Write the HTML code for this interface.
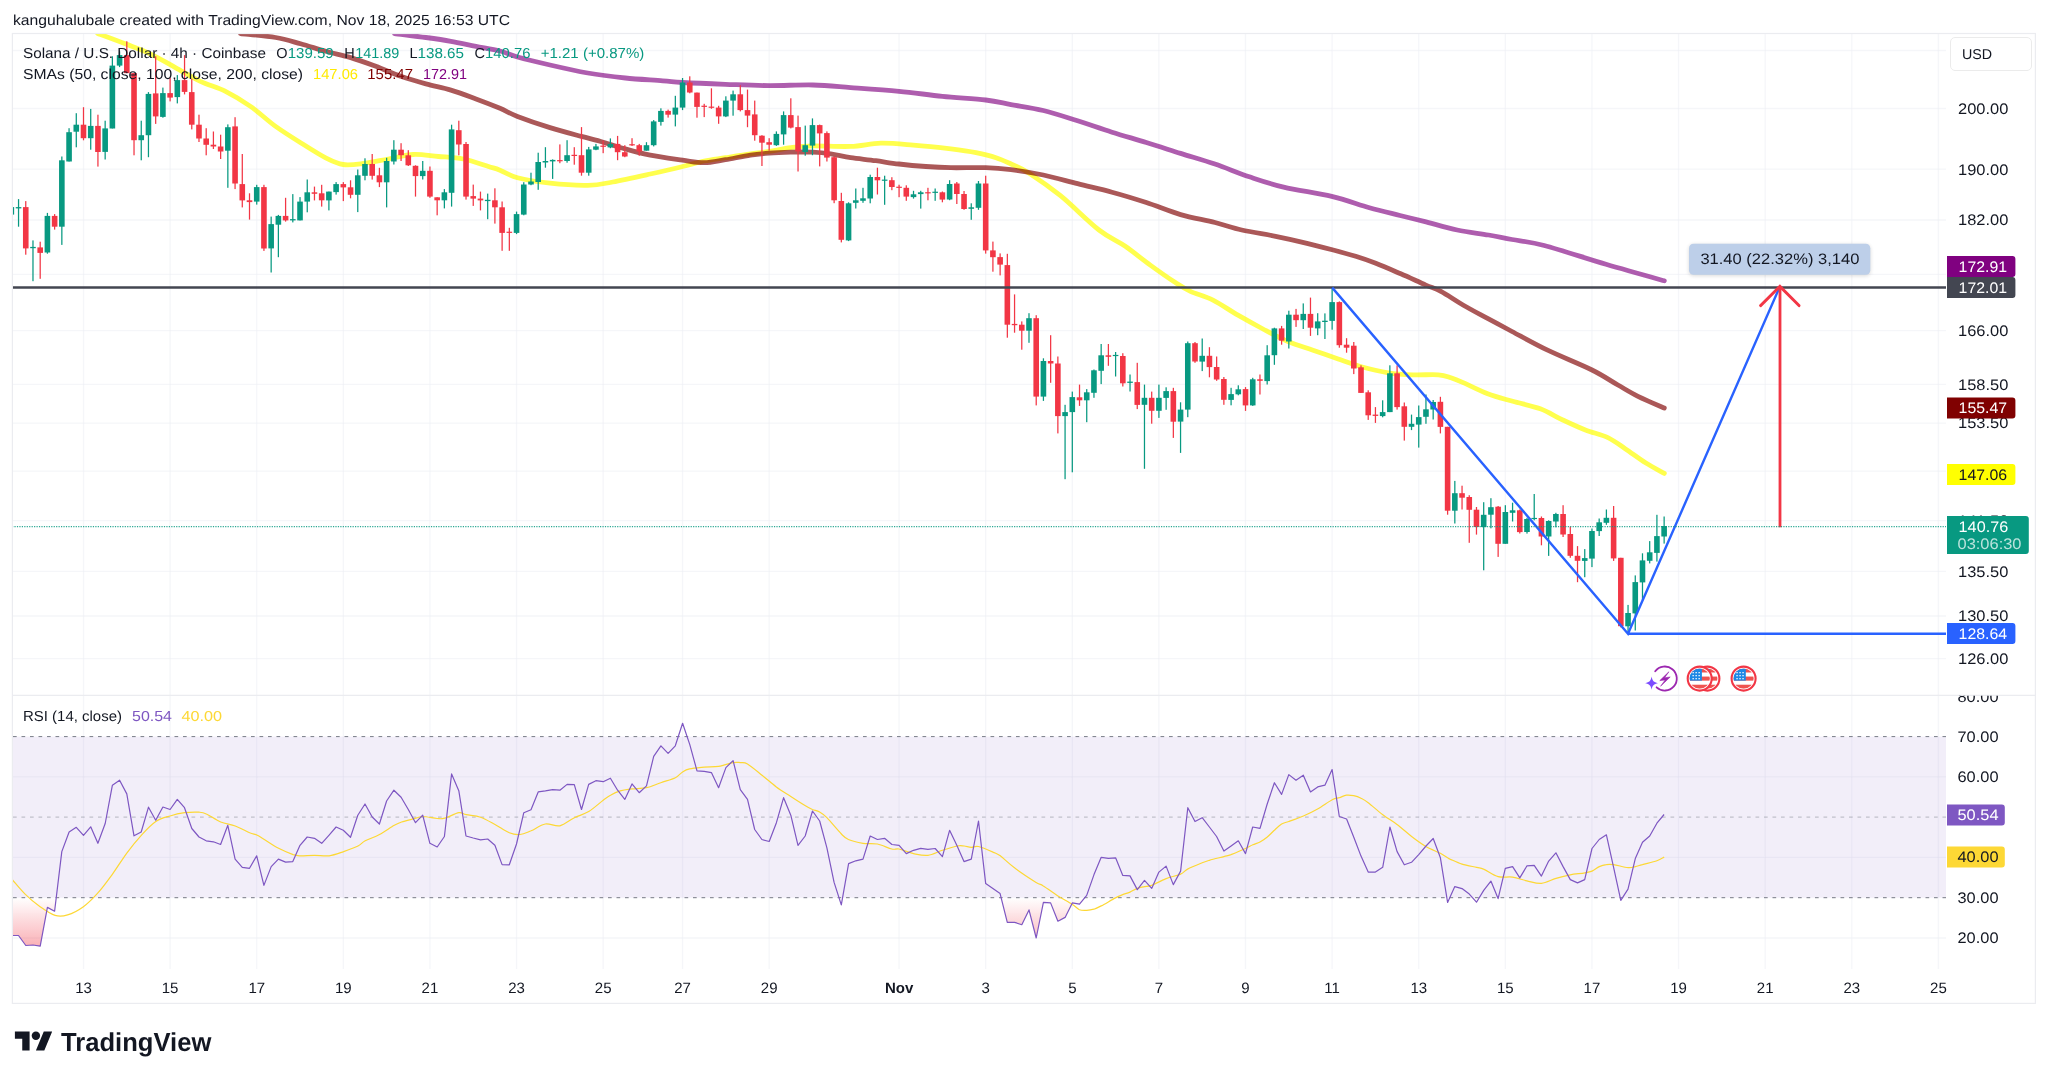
<!DOCTYPE html>
<html><head><meta charset="utf-8"><title>SOLUSD chart</title>
<style>html,body{margin:0;padding:0;background:#fff;}body{width:2048px;height:1078px;overflow:hidden;font-family:"Liberation Sans",sans-serif;}svg{display:block;text-rendering:geometricPrecision;will-change:opacity;opacity:0.9999}</style>
</head><body><svg width="2048" height="1078" viewBox="0 0 2048 1078" font-family="Liberation Sans, sans-serif"><g stroke="#eceef4" stroke-width="1.3" stroke-opacity="0.55">
<line x1="12.4" y1="50.5" x2="1946" y2="50.5"/>
<line x1="12.4" y1="108.5" x2="1946" y2="108.5"/>
<line x1="12.4" y1="169.2" x2="1946" y2="169.2"/>
<line x1="12.4" y1="220" x2="1946" y2="220"/>
<line x1="12.4" y1="274.3" x2="1946" y2="274.3"/>
<line x1="12.4" y1="330.6" x2="1946" y2="330.6"/>
<line x1="12.4" y1="384.3" x2="1946" y2="384.3"/>
<line x1="12.4" y1="423.1" x2="1946" y2="423.1"/>
<line x1="12.4" y1="471.2" x2="1946" y2="471.2"/>
<line x1="12.4" y1="520.6" x2="1946" y2="520.6"/>
<line x1="12.4" y1="571.4" x2="1946" y2="571.4"/>
<line x1="12.4" y1="616.0" x2="1946" y2="616.0"/>
<line x1="12.4" y1="658.6" x2="1946" y2="658.6"/>
<line x1="12.4" y1="776.875" x2="1946" y2="776.875"/>
<line x1="12.4" y1="857.425" x2="1946" y2="857.425"/>
<line x1="12.4" y1="937.9749999999999" x2="1946" y2="937.9749999999999"/>
<line x1="83.5" y1="33.5" x2="83.5" y2="969"/>
<line x1="170.11" y1="33.5" x2="170.11" y2="969"/>
<line x1="256.72" y1="33.5" x2="256.72" y2="969"/>
<line x1="343.33" y1="33.5" x2="343.33" y2="969"/>
<line x1="429.94" y1="33.5" x2="429.94" y2="969"/>
<line x1="516.55" y1="33.5" x2="516.55" y2="969"/>
<line x1="603.16" y1="33.5" x2="603.16" y2="969"/>
<line x1="682.5525" y1="33.5" x2="682.5525" y2="969"/>
<line x1="769.1625" y1="33.5" x2="769.1625" y2="969"/>
<line x1="899.0775" y1="33.5" x2="899.0775" y2="969"/>
<line x1="985.6875" y1="33.5" x2="985.6875" y2="969"/>
<line x1="1072.2975000000001" y1="33.5" x2="1072.2975000000001" y2="969"/>
<line x1="1158.9075" y1="33.5" x2="1158.9075" y2="969"/>
<line x1="1245.5175" y1="33.5" x2="1245.5175" y2="969"/>
<line x1="1332.1275" y1="33.5" x2="1332.1275" y2="969"/>
<line x1="1418.7375" y1="33.5" x2="1418.7375" y2="969"/>
<line x1="1505.3475" y1="33.5" x2="1505.3475" y2="969"/>
<line x1="1591.9575" y1="33.5" x2="1591.9575" y2="969"/>
<line x1="1678.5675" y1="33.5" x2="1678.5675" y2="969"/>
<line x1="1765.1775" y1="33.5" x2="1765.1775" y2="969"/>
<line x1="1851.7875000000001" y1="33.5" x2="1851.7875000000001" y2="969"/>
<line x1="1938.3975" y1="33.5" x2="1938.3975" y2="969"/>
</g>
<clipPath id="cm"><rect x="13" y="34" width="1933" height="661"/></clipPath>
<g clip-path="url(#cm)">
<path d="M97.7 33.5C102.3 35.2 116.5 40.4 125.3 43.8C134.1 47.2 142.0 49.8 150.3 53.8C158.7 57.8 167.1 63.0 175.4 67.6C183.8 72.2 192.1 77.4 200.4 81.4C208.8 85.4 217.2 87.2 225.5 91.4C233.8 95.6 242.2 100.6 250.5 106.4C258.9 112.2 267.2 120.4 275.6 126.4C284.0 132.4 292.2 137.5 300.6 142.7C309.0 147.9 318.6 154.2 325.7 157.8C332.8 161.4 336.9 163.6 343.2 164.5C349.4 165.4 355.7 164.4 363.2 163.5C370.7 162.6 379.9 160.5 388.3 159.0C396.7 157.5 405.0 154.9 413.3 154.5C421.6 154.1 430.0 155.8 438.4 156.5C446.8 157.2 455.0 157.3 463.4 159.0C471.8 160.7 482.4 164.6 488.5 166.5C494.6 168.4 495.2 168.3 500.0 170.2C504.8 172.1 509.2 175.5 517.5 177.7C525.8 179.9 538.3 181.9 550.0 183.2C561.7 184.5 577.2 185.5 587.7 185.3C598.2 185.1 602.3 183.9 612.7 182.0C623.1 180.1 638.6 176.6 650.3 174.0C661.9 171.4 673.6 168.7 682.6 166.5C691.6 164.3 697.1 162.5 704.2 161.0C711.4 159.5 717.8 158.9 725.5 157.7C733.2 156.5 743.2 154.9 750.5 153.9C757.8 152.9 762.3 152.4 769.0 151.4C775.7 150.4 783.5 148.6 790.8 147.7C798.1 146.8 803.0 146.1 813.0 145.9C823.0 145.7 839.4 146.9 850.7 146.4C862.0 145.9 870.4 143.4 880.8 143.2C891.2 143.0 901.6 144.2 913.3 145.2C925.0 146.1 940.4 147.7 950.9 148.9C961.4 150.2 968.5 151.2 976.0 152.7C983.5 154.2 990.2 155.8 996.0 157.7C1001.8 159.6 1005.4 161.4 1011.0 164.0C1016.6 166.6 1021.3 168.1 1029.6 173.4C1037.8 178.7 1048.9 186.3 1060.5 195.7C1072.1 205.1 1088.2 221.6 1099.0 230.0C1109.8 238.4 1116.8 240.5 1125.3 246.3C1133.8 252.2 1141.9 259.1 1150.3 265.1C1158.7 271.2 1168.7 278.2 1175.4 282.6C1182.1 287.0 1184.1 288.5 1190.4 291.4C1196.7 294.3 1205.1 296.1 1213.0 300.1C1220.9 304.1 1229.7 310.4 1238.0 315.2C1246.3 320.0 1254.7 324.6 1263.0 329.0C1271.3 333.4 1279.7 338.0 1288.0 341.5C1296.3 345.0 1304.6 347.3 1313.0 350.2C1321.4 353.1 1329.8 356.1 1338.2 359.0C1346.6 361.9 1354.9 365.0 1363.2 367.3C1371.5 369.6 1380.0 371.6 1388.3 372.8C1396.6 374.1 1404.9 374.5 1413.3 374.8C1421.7 375.1 1432.1 374.3 1438.4 374.8C1444.7 375.3 1446.9 376.5 1450.9 377.8C1454.9 379.1 1456.5 379.7 1462.6 382.4C1468.7 385.1 1479.3 390.6 1487.7 393.8C1496.1 397.0 1503.9 398.8 1512.7 401.3C1521.5 403.8 1532.0 405.7 1540.3 408.8C1548.6 411.9 1555.3 416.5 1562.8 420.0C1570.3 423.5 1577.9 427.1 1585.4 430.0C1592.9 432.9 1601.2 434.5 1607.9 437.6C1614.6 440.8 1619.2 444.7 1625.5 448.9C1631.8 453.1 1639.0 458.6 1645.5 462.7C1652.0 466.8 1661.2 471.6 1664.3 473.4" fill="none" stroke="#ffff00" stroke-opacity="0.7" stroke-width="4.8" stroke-linecap="round" stroke-linejoin="round"/>
<path d="M240.5 33.5C246.3 34.2 265.6 35.8 275.6 37.5C285.6 39.2 292.2 41.5 300.6 43.8C309.0 46.1 317.4 49.0 325.7 51.3C334.0 53.6 342.3 55.1 350.7 57.6C359.1 60.1 367.4 63.2 375.8 66.3C384.2 69.4 392.5 73.4 400.8 76.3C409.1 79.2 417.5 81.6 425.9 83.9C434.2 86.2 442.5 87.6 450.9 90.1C459.2 92.6 467.8 95.9 476.0 98.9C484.2 101.9 493.1 105.4 500.0 108.3C506.9 111.2 509.2 113.2 517.5 116.4C525.8 119.6 539.4 124.3 550.0 127.6C560.6 130.9 572.5 134.0 581.4 136.4C590.3 138.8 595.9 140.1 603.2 142.2C610.5 144.3 617.4 146.7 625.3 148.9C633.1 151.1 640.8 153.3 650.3 155.2C659.8 157.1 673.6 158.9 682.6 160.2C691.6 161.4 697.1 162.8 704.2 162.7C711.4 162.6 717.8 160.9 725.5 159.7C733.2 158.4 743.2 156.3 750.5 155.2C757.8 154.1 762.3 153.7 769.0 153.2C775.7 152.7 783.5 152.4 790.8 152.2C798.1 152.0 806.4 151.9 813.0 152.2C819.6 152.5 824.4 153.0 830.7 153.9C837.0 154.8 843.2 156.6 850.7 157.7C858.2 158.8 867.8 159.6 875.8 160.7C883.8 161.8 890.6 163.0 899.0 164.0C907.4 165.0 917.2 165.9 925.9 166.5C934.5 167.1 940.9 167.5 950.9 167.7C960.9 167.9 975.7 167.4 985.7 167.7C995.7 168.0 1001.4 168.5 1011.0 169.7C1020.6 170.9 1032.2 172.7 1043.3 175.0C1054.4 177.3 1066.1 180.8 1077.6 183.7C1089.0 186.6 1100.5 189.1 1112.0 192.2C1123.5 195.3 1134.9 198.8 1146.3 202.5C1157.7 206.2 1169.1 211.3 1180.6 214.6C1192.0 217.9 1204.8 219.9 1215.0 222.5C1225.2 225.1 1231.6 227.7 1241.7 230.0C1251.8 232.3 1265.8 234.3 1275.6 236.3C1285.4 238.3 1291.0 239.5 1300.6 241.8C1310.2 244.1 1324.0 247.6 1333.2 250.0C1342.4 252.4 1348.6 254.1 1355.7 256.3C1362.8 258.5 1368.3 260.4 1375.8 263.3C1383.3 266.2 1392.4 270.2 1400.8 273.8C1409.2 277.4 1419.2 282.2 1425.9 285.1C1432.6 288.0 1434.7 288.0 1440.9 291.4C1447.2 294.8 1455.5 300.6 1463.4 305.2C1471.3 309.8 1480.4 314.5 1488.5 318.9C1496.6 323.3 1502.2 326.3 1512.0 331.5C1521.8 336.7 1534.3 343.8 1547.6 350.2C1560.9 356.6 1580.3 364.2 1592.0 370.0C1603.7 375.8 1610.2 380.6 1617.9 385.0C1625.6 389.4 1630.3 392.5 1638.0 396.3C1645.7 400.1 1659.9 406.1 1664.3 408.0" fill="none" stroke="#800000" stroke-opacity="0.66" stroke-width="4.8" stroke-linecap="round" stroke-linejoin="round"/>
<path d="M394.5 33.5C399.7 34.2 416.5 36.2 425.9 37.5C435.3 38.8 442.5 39.8 450.9 41.3C459.2 42.8 467.8 44.7 476.0 46.3C484.2 47.9 493.1 49.2 500.0 51.0C506.9 52.8 509.2 54.7 517.5 57.0C525.8 59.3 538.3 62.3 550.0 65.0C561.7 67.7 575.2 70.8 587.7 73.0C600.2 75.2 612.8 76.7 625.3 78.0C637.8 79.3 653.2 80.0 662.8 80.8C672.3 81.5 672.1 81.9 682.6 82.5C693.1 83.1 711.1 83.8 725.5 84.3C739.9 84.8 754.4 85.5 769.0 85.6C783.6 85.7 799.4 84.7 813.0 85.0C826.6 85.3 836.4 86.5 850.7 87.6C865.0 88.6 883.7 89.8 899.0 91.3C914.3 92.8 927.9 94.8 942.4 96.3C956.9 97.8 974.3 98.6 985.7 100.0C997.1 101.4 1001.4 102.8 1011.0 104.6C1020.6 106.3 1032.2 107.8 1043.3 110.5C1054.4 113.2 1066.1 117.2 1077.6 120.8C1089.0 124.4 1100.5 128.6 1112.0 132.2C1123.5 135.8 1134.9 139.0 1146.3 142.5C1157.7 146.0 1169.2 149.8 1180.6 153.4C1192.0 157.0 1203.5 160.2 1214.9 164.1C1226.4 168.0 1237.8 173.0 1249.3 176.8C1260.8 180.6 1269.9 183.8 1283.6 187.1C1297.3 190.4 1317.4 193.0 1331.7 196.4C1346.0 199.8 1358.0 204.5 1369.4 207.7C1380.8 210.9 1390.9 213.2 1400.0 215.5C1409.1 217.8 1414.5 219.0 1424.0 221.4C1433.5 223.8 1446.5 227.7 1457.2 230.0C1468.0 232.3 1479.4 233.4 1488.5 235.0C1497.6 236.6 1502.7 237.8 1512.0 239.5C1521.3 241.2 1528.5 241.4 1544.2 245.5C1559.9 249.6 1586.0 258.4 1606.0 264.3C1626.0 270.2 1654.6 278.1 1664.3 280.8" fill="none" stroke="#800080" stroke-opacity="0.64" stroke-width="4.8" stroke-linecap="round" stroke-linejoin="round"/>
<g><rect x="10.70" y="207.1" width="1.25" height="7.5" fill="#089981"/><rect x="17.92" y="199.1" width="1.25" height="27.6" fill="#089981"/><rect x="25.13" y="201.1" width="1.25" height="53.6" fill="#f23645"/><rect x="32.35" y="240.4" width="1.25" height="40.8" fill="#089981"/><rect x="39.57" y="241.7" width="1.25" height="37.1" fill="#f23645"/><rect x="46.79" y="212.9" width="1.25" height="40.8" fill="#089981"/><rect x="54.00" y="214.1" width="1.25" height="15.5" fill="#f23645"/><rect x="61.22" y="156.5" width="1.25" height="88.4" fill="#089981"/><rect x="68.44" y="128.2" width="1.25" height="33.3" fill="#089981"/><rect x="75.66" y="113.2" width="1.25" height="34.1" fill="#089981"/><rect x="82.88" y="107.2" width="1.25" height="33.1" fill="#f23645"/><rect x="90.09" y="108.9" width="1.25" height="40.8" fill="#089981"/><rect x="97.31" y="114.7" width="1.25" height="51.9" fill="#f23645"/><rect x="104.53" y="120.7" width="1.25" height="38.8" fill="#089981"/><rect x="111.75" y="56.3" width="1.25" height="72.1" fill="#089981"/><rect x="118.96" y="51.3" width="1.25" height="15.8" fill="#089981"/><rect x="126.18" y="41.3" width="1.25" height="31.8" fill="#f23645"/><rect x="133.40" y="73.1" width="1.25" height="82.2" fill="#f23645"/><rect x="140.62" y="120.7" width="1.25" height="39.6" fill="#089981"/><rect x="147.83" y="92.1" width="1.25" height="65.1" fill="#089981"/><rect x="155.05" y="56.3" width="1.25" height="67.6" fill="#f23645"/><rect x="162.27" y="87.6" width="1.25" height="30.1" fill="#089981"/><rect x="169.49" y="77.6" width="1.25" height="23.8" fill="#f23645"/><rect x="176.70" y="75.1" width="1.25" height="28.3" fill="#089981"/><rect x="183.92" y="55.1" width="1.25" height="39.3" fill="#f23645"/><rect x="191.14" y="78.8" width="1.25" height="50.6" fill="#f23645"/><rect x="198.36" y="114.7" width="1.25" height="27.3" fill="#f23645"/><rect x="205.57" y="128.2" width="1.25" height="27.1" fill="#f23645"/><rect x="212.79" y="131.5" width="1.25" height="17.5" fill="#f23645"/><rect x="220.01" y="134.7" width="1.25" height="24.3" fill="#f23645"/><rect x="227.22" y="124.4" width="1.25" height="63.4" fill="#089981"/><rect x="234.44" y="117.2" width="1.25" height="71.9" fill="#f23645"/><rect x="241.66" y="154.0" width="1.25" height="53.4" fill="#f23645"/><rect x="248.88" y="193.3" width="1.25" height="26.3" fill="#f23645"/><rect x="256.10" y="184.8" width="1.25" height="19.8" fill="#089981"/><rect x="263.31" y="184.8" width="1.25" height="66.1" fill="#f23645"/><rect x="270.53" y="216.6" width="1.25" height="55.9" fill="#089981"/><rect x="277.75" y="214.9" width="1.25" height="42.3" fill="#089981"/><rect x="284.97" y="197.8" width="1.25" height="23.8" fill="#f23645"/><rect x="292.18" y="194.1" width="1.25" height="28.3" fill="#089981"/><rect x="299.40" y="197.1" width="1.25" height="23.3" fill="#089981"/><rect x="306.62" y="179.5" width="1.25" height="32.8" fill="#089981"/><rect x="313.84" y="186.6" width="1.25" height="13.8" fill="#f23645"/><rect x="321.05" y="184.8" width="1.25" height="21.8" fill="#f23645"/><rect x="328.27" y="191.6" width="1.25" height="18.8" fill="#089981"/><rect x="335.49" y="182.1" width="1.25" height="12.5" fill="#089981"/><rect x="342.70" y="182.1" width="1.25" height="19.0" fill="#f23645"/><rect x="349.92" y="180.3" width="1.25" height="18.0" fill="#f23645"/><rect x="357.14" y="169.5" width="1.25" height="42.6" fill="#089981"/><rect x="364.36" y="158.3" width="1.25" height="22.0" fill="#089981"/><rect x="371.57" y="154.0" width="1.25" height="25.6" fill="#f23645"/><rect x="378.79" y="167.8" width="1.25" height="19.3" fill="#f23645"/><rect x="386.01" y="157.8" width="1.25" height="49.6" fill="#089981"/><rect x="393.23" y="140.2" width="1.25" height="24.3" fill="#089981"/><rect x="400.44" y="143.2" width="1.25" height="17.8" fill="#f23645"/><rect x="407.66" y="150.2" width="1.25" height="15.8" fill="#f23645"/><rect x="414.88" y="165.3" width="1.25" height="31.3" fill="#f23645"/><rect x="422.10" y="161.0" width="1.25" height="18.5" fill="#089981"/><rect x="429.31" y="166.5" width="1.25" height="31.3" fill="#f23645"/><rect x="436.53" y="197.3" width="1.25" height="18.0" fill="#f23645"/><rect x="443.75" y="189.1" width="1.25" height="19.3" fill="#089981"/><rect x="450.97" y="124.7" width="1.25" height="81.9" fill="#089981"/><rect x="458.19" y="120.7" width="1.25" height="34.6" fill="#f23645"/><rect x="465.40" y="142.0" width="1.25" height="57.6" fill="#f23645"/><rect x="472.62" y="184.6" width="1.25" height="21.3" fill="#f23645"/><rect x="479.84" y="191.6" width="1.25" height="18.8" fill="#f23645"/><rect x="487.06" y="193.6" width="1.25" height="25.6" fill="#089981"/><rect x="494.27" y="188.3" width="1.25" height="35.3" fill="#f23645"/><rect x="501.49" y="201.5" width="1.25" height="49.3" fill="#f23645"/><rect x="508.71" y="227.8" width="1.25" height="23.0" fill="#f23645"/><rect x="515.92" y="211.6" width="1.25" height="22.5" fill="#089981"/><rect x="523.14" y="182.2" width="1.25" height="33.1" fill="#089981"/><rect x="530.36" y="172.7" width="1.25" height="12.5" fill="#089981"/><rect x="537.58" y="152.7" width="1.25" height="37.1" fill="#089981"/><rect x="544.80" y="147.2" width="1.25" height="20.5" fill="#089981"/><rect x="552.01" y="159.4" width="1.25" height="19.5" fill="#089981"/><rect x="559.23" y="144.4" width="1.25" height="18.8" fill="#f23645"/><rect x="566.45" y="140.2" width="1.25" height="22.5" fill="#089981"/><rect x="573.66" y="147.2" width="1.25" height="17.5" fill="#f23645"/><rect x="580.88" y="127.1" width="1.25" height="48.6" fill="#f23645"/><rect x="588.10" y="146.9" width="1.25" height="28.8" fill="#089981"/><rect x="595.32" y="143.9" width="1.25" height="6.3" fill="#089981"/><rect x="602.53" y="140.7" width="1.25" height="12.5" fill="#f23645"/><rect x="609.75" y="138.4" width="1.25" height="9.8" fill="#089981"/><rect x="616.97" y="135.9" width="1.25" height="24.3" fill="#f23645"/><rect x="624.19" y="145.2" width="1.25" height="12.0" fill="#f23645"/><rect x="631.40" y="138.2" width="1.25" height="7.8" fill="#f23645"/><rect x="638.62" y="143.9" width="1.25" height="11.8" fill="#f23645"/><rect x="645.84" y="142.2" width="1.25" height="8.5" fill="#089981"/><rect x="653.06" y="120.1" width="1.25" height="26.3" fill="#089981"/><rect x="660.27" y="108.3" width="1.25" height="17.3" fill="#089981"/><rect x="667.49" y="109.6" width="1.25" height="8.0" fill="#f23645"/><rect x="674.71" y="95.8" width="1.25" height="30.6" fill="#089981"/><rect x="681.93" y="78.0" width="1.25" height="32.1" fill="#089981"/><rect x="689.14" y="76.3" width="1.25" height="17.0" fill="#f23645"/><rect x="696.36" y="92.6" width="1.25" height="25.1" fill="#f23645"/><rect x="703.58" y="103.8" width="1.25" height="13.3" fill="#f23645"/><rect x="710.80" y="88.3" width="1.25" height="20.5" fill="#f23645"/><rect x="718.01" y="105.8" width="1.25" height="18.0" fill="#f23645"/><rect x="725.23" y="96.3" width="1.25" height="20.8" fill="#089981"/><rect x="732.45" y="90.6" width="1.25" height="25.1" fill="#089981"/><rect x="739.67" y="85.1" width="1.25" height="26.3" fill="#f23645"/><rect x="746.88" y="89.6" width="1.25" height="37.6" fill="#f23645"/><rect x="754.10" y="100.6" width="1.25" height="40.1" fill="#f23645"/><rect x="761.32" y="135.2" width="1.25" height="30.8" fill="#f23645"/><rect x="768.54" y="138.2" width="1.25" height="12.5" fill="#f23645"/><rect x="775.75" y="131.4" width="1.25" height="14.5" fill="#089981"/><rect x="782.97" y="111.4" width="1.25" height="33.3" fill="#089981"/><rect x="790.19" y="98.3" width="1.25" height="30.1" fill="#f23645"/><rect x="797.41" y="115.6" width="1.25" height="55.9" fill="#f23645"/><rect x="804.62" y="125.6" width="1.25" height="30.1" fill="#089981"/><rect x="811.84" y="118.4" width="1.25" height="36.8" fill="#089981"/><rect x="819.06" y="124.6" width="1.25" height="41.8" fill="#f23645"/><rect x="826.28" y="131.4" width="1.25" height="30.1" fill="#f23645"/><rect x="833.50" y="156.4" width="1.25" height="46.8" fill="#f23645"/><rect x="840.71" y="192.8" width="1.25" height="49.6" fill="#f23645"/><rect x="847.93" y="202.3" width="1.25" height="38.8" fill="#089981"/><rect x="855.15" y="188.5" width="1.25" height="20.0" fill="#089981"/><rect x="862.37" y="187.8" width="1.25" height="15.0" fill="#089981"/><rect x="869.58" y="174.7" width="1.25" height="28.6" fill="#089981"/><rect x="876.80" y="167.7" width="1.25" height="26.8" fill="#f23645"/><rect x="884.02" y="175.7" width="1.25" height="29.1" fill="#089981"/><rect x="891.24" y="177.2" width="1.25" height="13.0" fill="#f23645"/><rect x="898.45" y="184.7" width="1.25" height="12.5" fill="#f23645"/><rect x="905.67" y="185.3" width="1.25" height="15.5" fill="#f23645"/><rect x="912.89" y="190.8" width="1.25" height="7.8" fill="#089981"/><rect x="920.11" y="190.8" width="1.25" height="17.8" fill="#089981"/><rect x="927.32" y="187.8" width="1.25" height="12.5" fill="#f23645"/><rect x="934.54" y="188.5" width="1.25" height="12.3" fill="#089981"/><rect x="941.76" y="191.5" width="1.25" height="10.8" fill="#f23645"/><rect x="948.98" y="180.2" width="1.25" height="20.0" fill="#089981"/><rect x="956.19" y="182.0" width="1.25" height="22.0" fill="#f23645"/><rect x="963.41" y="191.0" width="1.25" height="18.8" fill="#f23645"/><rect x="970.63" y="203.3" width="1.25" height="16.5" fill="#089981"/><rect x="977.85" y="181.0" width="1.25" height="28.8" fill="#089981"/><rect x="985.06" y="175.7" width="1.25" height="77.9" fill="#f23645"/><rect x="992.28" y="241.6" width="1.25" height="30.1" fill="#f23645"/><rect x="999.50" y="253.4" width="1.25" height="22.0" fill="#f23645"/><rect x="1006.72" y="253.8" width="1.25" height="83.9" fill="#f23645"/><rect x="1013.93" y="294.4" width="1.25" height="38.3" fill="#f23645"/><rect x="1021.15" y="321.4" width="1.25" height="28.3" fill="#f23645"/><rect x="1028.37" y="313.2" width="1.25" height="29.6" fill="#089981"/><rect x="1035.59" y="315.2" width="1.25" height="90.2" fill="#f23645"/><rect x="1042.80" y="358.3" width="1.25" height="42.6" fill="#089981"/><rect x="1050.02" y="335.2" width="1.25" height="47.6" fill="#f23645"/><rect x="1057.24" y="356.5" width="1.25" height="76.9" fill="#f23645"/><rect x="1064.45" y="404.8" width="1.25" height="74.4" fill="#089981"/><rect x="1071.67" y="391.6" width="1.25" height="80.7" fill="#089981"/><rect x="1078.89" y="384.6" width="1.25" height="21.3" fill="#f23645"/><rect x="1086.11" y="389.1" width="1.25" height="33.1" fill="#089981"/><rect x="1093.33" y="369.5" width="1.25" height="28.3" fill="#089981"/><rect x="1100.54" y="344.0" width="1.25" height="40.1" fill="#089981"/><rect x="1107.76" y="344.0" width="1.25" height="21.8" fill="#f23645"/><rect x="1114.98" y="352.0" width="1.25" height="24.5" fill="#089981"/><rect x="1122.19" y="353.2" width="1.25" height="33.3" fill="#f23645"/><rect x="1129.41" y="374.5" width="1.25" height="17.0" fill="#089981"/><rect x="1136.63" y="362.8" width="1.25" height="46.3" fill="#f23645"/><rect x="1143.85" y="384.6" width="1.25" height="84.2" fill="#089981"/><rect x="1151.07" y="391.6" width="1.25" height="32.1" fill="#f23645"/><rect x="1158.28" y="384.6" width="1.25" height="33.3" fill="#089981"/><rect x="1165.50" y="387.3" width="1.25" height="22.5" fill="#089981"/><rect x="1172.72" y="387.8" width="1.25" height="50.1" fill="#f23645"/><rect x="1179.93" y="402.3" width="1.25" height="50.6" fill="#089981"/><rect x="1187.15" y="341.5" width="1.25" height="75.7" fill="#089981"/><rect x="1194.37" y="342.0" width="1.25" height="20.8" fill="#f23645"/><rect x="1201.59" y="338.5" width="1.25" height="32.6" fill="#089981"/><rect x="1208.81" y="347.2" width="1.25" height="30.1" fill="#f23645"/><rect x="1216.02" y="356.5" width="1.25" height="24.3" fill="#f23645"/><rect x="1223.24" y="377.0" width="1.25" height="27.8" fill="#f23645"/><rect x="1230.46" y="387.8" width="1.25" height="17.5" fill="#089981"/><rect x="1237.67" y="385.3" width="1.25" height="10.0" fill="#089981"/><rect x="1244.89" y="387.1" width="1.25" height="23.8" fill="#f23645"/><rect x="1252.11" y="377.8" width="1.25" height="28.1" fill="#089981"/><rect x="1259.33" y="374.5" width="1.25" height="20.0" fill="#f23645"/><rect x="1266.55" y="345.2" width="1.25" height="39.3" fill="#089981"/><rect x="1273.76" y="327.7" width="1.25" height="37.1" fill="#089981"/><rect x="1280.98" y="325.9" width="1.25" height="18.8" fill="#f23645"/><rect x="1288.20" y="310.7" width="1.25" height="37.8" fill="#089981"/><rect x="1295.41" y="308.9" width="1.25" height="18.0" fill="#f23645"/><rect x="1302.63" y="303.4" width="1.25" height="25.6" fill="#089981"/><rect x="1309.85" y="297.6" width="1.25" height="38.3" fill="#f23645"/><rect x="1317.07" y="313.2" width="1.25" height="22.0" fill="#089981"/><rect x="1324.29" y="313.4" width="1.25" height="25.6" fill="#089981"/><rect x="1331.50" y="287.6" width="1.25" height="42.1" fill="#089981"/><rect x="1338.72" y="301.4" width="1.25" height="46.3" fill="#f23645"/><rect x="1345.94" y="338.2" width="1.25" height="14.5" fill="#f23645"/><rect x="1353.15" y="342.0" width="1.25" height="32.1" fill="#f23645"/><rect x="1360.37" y="365.3" width="1.25" height="27.6" fill="#f23645"/><rect x="1367.59" y="390.3" width="1.25" height="29.6" fill="#f23645"/><rect x="1374.81" y="407.1" width="1.25" height="15.8" fill="#f23645"/><rect x="1382.03" y="400.3" width="1.25" height="17.0" fill="#089981"/><rect x="1389.24" y="365.3" width="1.25" height="46.8" fill="#089981"/><rect x="1396.46" y="365.3" width="1.25" height="44.3" fill="#f23645"/><rect x="1403.68" y="402.5" width="1.25" height="38.1" fill="#f23645"/><rect x="1410.89" y="414.6" width="1.25" height="15.5" fill="#089981"/><rect x="1418.11" y="405.5" width="1.25" height="42.1" fill="#089981"/><rect x="1425.33" y="394.5" width="1.25" height="29.3" fill="#089981"/><rect x="1432.55" y="400.0" width="1.25" height="19.5" fill="#089981"/><rect x="1439.77" y="396.8" width="1.25" height="36.6" fill="#f23645"/><rect x="1446.98" y="426.8" width="1.25" height="87.9" fill="#f23645"/><rect x="1454.20" y="480.9" width="1.25" height="42.6" fill="#089981"/><rect x="1461.42" y="485.7" width="1.25" height="23.8" fill="#f23645"/><rect x="1468.63" y="495.2" width="1.25" height="47.6" fill="#f23645"/><rect x="1475.85" y="507.0" width="1.25" height="27.6" fill="#f23645"/><rect x="1483.07" y="502.2" width="1.25" height="68.1" fill="#089981"/><rect x="1490.29" y="498.2" width="1.25" height="30.1" fill="#089981"/><rect x="1497.51" y="506.0" width="1.25" height="50.9" fill="#f23645"/><rect x="1504.72" y="505.2" width="1.25" height="38.6" fill="#089981"/><rect x="1511.94" y="502.7" width="1.25" height="18.8" fill="#089981"/><rect x="1519.16" y="509.5" width="1.25" height="24.0" fill="#f23645"/><rect x="1526.38" y="517.8" width="1.25" height="15.8" fill="#089981"/><rect x="1533.59" y="494.0" width="1.25" height="26.3" fill="#089981"/><rect x="1540.81" y="516.5" width="1.25" height="28.8" fill="#f23645"/><rect x="1548.03" y="520.3" width="1.25" height="35.6" fill="#089981"/><rect x="1555.25" y="512.8" width="1.25" height="14.5" fill="#089981"/><rect x="1562.46" y="505.2" width="1.25" height="31.8" fill="#f23645"/><rect x="1569.68" y="526.5" width="1.25" height="31.3" fill="#f23645"/><rect x="1576.90" y="546.1" width="1.25" height="36.1" fill="#f23645"/><rect x="1584.12" y="549.1" width="1.25" height="28.1" fill="#089981"/><rect x="1591.33" y="528.5" width="1.25" height="38.6" fill="#089981"/><rect x="1598.55" y="518.5" width="1.25" height="17.5" fill="#089981"/><rect x="1605.77" y="509.5" width="1.25" height="15.3" fill="#089981"/><rect x="1612.99" y="506.0" width="1.25" height="54.9" fill="#f23645"/><rect x="1620.20" y="557.8" width="1.25" height="69.6" fill="#f23645"/><rect x="1627.42" y="604.9" width="1.25" height="28.1" fill="#089981"/><rect x="1634.64" y="575.4" width="1.25" height="55.1" fill="#089981"/><rect x="1641.86" y="553.3" width="1.25" height="47.1" fill="#089981"/><rect x="1649.07" y="541.1" width="1.25" height="22.3" fill="#089981"/><rect x="1656.29" y="514.8" width="1.25" height="46.8" fill="#089981"/><rect x="1663.51" y="516.5" width="1.25" height="27.1" fill="#089981"/><rect x="8.53" y="207.1" width="5.6" height="7.5" fill="#089981"/><rect x="15.74" y="207.1" width="5.6" height="1.3" fill="#089981"/><rect x="22.96" y="207.1" width="5.6" height="41.3" fill="#f23645"/><rect x="30.18" y="246.9" width="5.6" height="1.3" fill="#089981"/><rect x="37.40" y="247.4" width="5.6" height="5.5" fill="#f23645"/><rect x="44.61" y="215.9" width="5.6" height="36.6" fill="#089981"/><rect x="51.83" y="215.9" width="5.6" height="10.8" fill="#f23645"/><rect x="59.05" y="160.3" width="5.6" height="66.4" fill="#089981"/><rect x="66.27" y="132.2" width="5.6" height="29.3" fill="#089981"/><rect x="73.48" y="124.7" width="5.6" height="7.0" fill="#089981"/><rect x="80.70" y="124.7" width="5.6" height="13.5" fill="#f23645"/><rect x="87.92" y="125.9" width="5.6" height="12.3" fill="#089981"/><rect x="95.14" y="125.9" width="5.6" height="26.1" fill="#f23645"/><rect x="102.35" y="128.4" width="5.6" height="23.5" fill="#089981"/><rect x="109.57" y="65.6" width="5.6" height="62.9" fill="#089981"/><rect x="116.79" y="55.1" width="5.6" height="10.5" fill="#089981"/><rect x="124.01" y="55.1" width="5.6" height="18.0" fill="#f23645"/><rect x="131.22" y="73.1" width="5.6" height="67.1" fill="#f23645"/><rect x="138.44" y="135.2" width="5.6" height="5.0" fill="#089981"/><rect x="145.66" y="93.9" width="5.6" height="41.3" fill="#089981"/><rect x="152.88" y="93.4" width="5.6" height="23.0" fill="#f23645"/><rect x="160.09" y="93.1" width="5.6" height="23.8" fill="#089981"/><rect x="167.31" y="93.1" width="5.6" height="4.5" fill="#f23645"/><rect x="174.53" y="80.1" width="5.6" height="17.0" fill="#089981"/><rect x="181.75" y="80.1" width="5.6" height="11.8" fill="#f23645"/><rect x="188.96" y="92.1" width="5.6" height="32.6" fill="#f23645"/><rect x="196.18" y="124.7" width="5.6" height="13.8" fill="#f23645"/><rect x="203.40" y="138.5" width="5.6" height="6.3" fill="#f23645"/><rect x="210.61" y="144.7" width="5.6" height="1.8" fill="#f23645"/><rect x="217.83" y="146.5" width="5.6" height="5.0" fill="#f23645"/><rect x="225.05" y="127.2" width="5.6" height="23.5" fill="#089981"/><rect x="232.27" y="126.4" width="5.6" height="57.1" fill="#f23645"/><rect x="239.48" y="184.1" width="5.6" height="16.3" fill="#f23645"/><rect x="246.70" y="200.3" width="5.6" height="1.8" fill="#f23645"/><rect x="253.92" y="187.1" width="5.6" height="14.5" fill="#089981"/><rect x="261.14" y="187.1" width="5.6" height="61.4" fill="#f23645"/><rect x="268.35" y="224.1" width="5.6" height="24.3" fill="#089981"/><rect x="275.57" y="215.9" width="5.6" height="8.8" fill="#089981"/><rect x="282.79" y="215.9" width="5.6" height="4.5" fill="#f23645"/><rect x="290.01" y="219.1" width="5.6" height="1.3" fill="#089981"/><rect x="297.22" y="201.6" width="5.6" height="18.8" fill="#089981"/><rect x="304.44" y="192.3" width="5.6" height="9.3" fill="#089981"/><rect x="311.66" y="192.3" width="5.6" height="1.5" fill="#f23645"/><rect x="318.88" y="193.3" width="5.6" height="7.0" fill="#f23645"/><rect x="326.09" y="191.6" width="5.6" height="8.8" fill="#089981"/><rect x="333.31" y="184.1" width="5.6" height="8.0" fill="#089981"/><rect x="340.53" y="184.1" width="5.6" height="3.3" fill="#f23645"/><rect x="347.75" y="187.3" width="5.6" height="7.5" fill="#f23645"/><rect x="354.96" y="175.3" width="5.6" height="19.5" fill="#089981"/><rect x="362.18" y="164.0" width="5.6" height="11.8" fill="#089981"/><rect x="369.40" y="164.0" width="5.6" height="11.8" fill="#f23645"/><rect x="376.62" y="175.3" width="5.6" height="7.0" fill="#f23645"/><rect x="383.83" y="161.0" width="5.6" height="21.3" fill="#089981"/><rect x="391.05" y="149.7" width="5.6" height="11.8" fill="#089981"/><rect x="398.27" y="149.7" width="5.6" height="5.5" fill="#f23645"/><rect x="405.49" y="155.3" width="5.6" height="10.0" fill="#f23645"/><rect x="412.70" y="165.8" width="5.6" height="10.3" fill="#f23645"/><rect x="419.92" y="170.8" width="5.6" height="5.3" fill="#089981"/><rect x="427.14" y="170.8" width="5.6" height="25.8" fill="#f23645"/><rect x="434.36" y="197.3" width="5.6" height="3.0" fill="#f23645"/><rect x="441.57" y="192.3" width="5.6" height="8.0" fill="#089981"/><rect x="448.79" y="129.4" width="5.6" height="63.4" fill="#089981"/><rect x="456.01" y="130.2" width="5.6" height="14.3" fill="#f23645"/><rect x="463.23" y="144.0" width="5.6" height="52.6" fill="#f23645"/><rect x="470.44" y="196.1" width="5.6" height="2.5" fill="#f23645"/><rect x="477.66" y="198.6" width="5.6" height="1.8" fill="#f23645"/><rect x="484.88" y="199.8" width="5.6" height="1.3" fill="#089981"/><rect x="492.10" y="200.3" width="5.6" height="7.0" fill="#f23645"/><rect x="499.31" y="207.3" width="5.6" height="25.6" fill="#f23645"/><rect x="506.53" y="231.7" width="5.6" height="1.2" fill="#f23645"/><rect x="513.75" y="214.1" width="5.6" height="18.8" fill="#089981"/><rect x="520.97" y="184.5" width="5.6" height="30.1" fill="#089981"/><rect x="528.19" y="181.5" width="5.6" height="3.0" fill="#089981"/><rect x="535.40" y="162.0" width="5.6" height="20.0" fill="#089981"/><rect x="542.62" y="161.0" width="5.6" height="1.5" fill="#089981"/><rect x="549.84" y="159.9" width="5.6" height="1.5" fill="#089981"/><rect x="557.06" y="160.1" width="5.6" height="1.2" fill="#f23645"/><rect x="564.27" y="155.2" width="5.6" height="5.8" fill="#089981"/><rect x="571.49" y="154.8" width="5.6" height="1.2" fill="#f23645"/><rect x="578.71" y="155.2" width="5.6" height="17.5" fill="#f23645"/><rect x="585.93" y="149.4" width="5.6" height="23.3" fill="#089981"/><rect x="593.14" y="146.4" width="5.6" height="3.3" fill="#089981"/><rect x="600.36" y="145.6" width="5.6" height="1.2" fill="#f23645"/><rect x="607.58" y="143.9" width="5.6" height="3.5" fill="#089981"/><rect x="614.80" y="143.9" width="5.6" height="8.3" fill="#f23645"/><rect x="622.01" y="152.2" width="5.6" height="4.3" fill="#f23645"/><rect x="629.23" y="144.2" width="5.6" height="1.2" fill="#f23645"/><rect x="636.45" y="145.2" width="5.6" height="6.3" fill="#f23645"/><rect x="643.67" y="145.2" width="5.6" height="5.5" fill="#089981"/><rect x="650.88" y="121.4" width="5.6" height="23.8" fill="#089981"/><rect x="658.10" y="110.9" width="5.6" height="11.0" fill="#089981"/><rect x="665.32" y="110.9" width="5.6" height="3.8" fill="#f23645"/><rect x="672.54" y="107.6" width="5.6" height="7.0" fill="#089981"/><rect x="679.75" y="82.5" width="5.6" height="25.1" fill="#089981"/><rect x="686.97" y="82.5" width="5.6" height="10.0" fill="#f23645"/><rect x="694.19" y="92.6" width="5.6" height="14.3" fill="#f23645"/><rect x="701.41" y="105.7" width="5.6" height="1.2" fill="#f23645"/><rect x="708.62" y="106.6" width="5.6" height="1.2" fill="#f23645"/><rect x="715.84" y="107.6" width="5.6" height="8.8" fill="#f23645"/><rect x="723.06" y="100.6" width="5.6" height="15.8" fill="#089981"/><rect x="730.28" y="94.3" width="5.6" height="6.3" fill="#089981"/><rect x="737.49" y="94.3" width="5.6" height="15.8" fill="#f23645"/><rect x="744.71" y="110.1" width="5.6" height="5.5" fill="#f23645"/><rect x="751.93" y="114.4" width="5.6" height="20.8" fill="#f23645"/><rect x="759.15" y="135.7" width="5.6" height="7.0" fill="#f23645"/><rect x="766.36" y="142.2" width="5.6" height="2.5" fill="#f23645"/><rect x="773.58" y="133.9" width="5.6" height="11.3" fill="#089981"/><rect x="780.80" y="115.1" width="5.6" height="19.3" fill="#089981"/><rect x="788.02" y="115.1" width="5.6" height="12.5" fill="#f23645"/><rect x="795.23" y="127.1" width="5.6" height="24.3" fill="#f23645"/><rect x="802.45" y="145.2" width="5.6" height="6.8" fill="#089981"/><rect x="809.67" y="125.1" width="5.6" height="20.5" fill="#089981"/><rect x="816.89" y="125.1" width="5.6" height="8.3" fill="#f23645"/><rect x="824.10" y="133.1" width="5.6" height="24.5" fill="#f23645"/><rect x="831.32" y="157.2" width="5.6" height="43.1" fill="#f23645"/><rect x="838.54" y="201.0" width="5.6" height="38.8" fill="#f23645"/><rect x="845.76" y="203.3" width="5.6" height="37.1" fill="#089981"/><rect x="852.97" y="200.3" width="5.6" height="2.5" fill="#089981"/><rect x="860.19" y="198.3" width="5.6" height="2.5" fill="#089981"/><rect x="867.41" y="177.0" width="5.6" height="21.5" fill="#089981"/><rect x="874.63" y="177.0" width="5.6" height="3.3" fill="#f23645"/><rect x="881.84" y="179.6" width="5.6" height="1.2" fill="#089981"/><rect x="889.06" y="180.2" width="5.6" height="6.8" fill="#f23645"/><rect x="896.28" y="186.7" width="5.6" height="1.2" fill="#f23645"/><rect x="903.50" y="187.8" width="5.6" height="8.8" fill="#f23645"/><rect x="910.71" y="194.3" width="5.6" height="2.8" fill="#089981"/><rect x="917.93" y="192.3" width="5.6" height="1.8" fill="#089981"/><rect x="925.15" y="192.2" width="5.6" height="1.2" fill="#f23645"/><rect x="932.37" y="191.7" width="5.6" height="1.2" fill="#089981"/><rect x="939.58" y="192.3" width="5.6" height="7.3" fill="#f23645"/><rect x="946.80" y="184.0" width="5.6" height="15.5" fill="#089981"/><rect x="954.02" y="183.5" width="5.6" height="10.5" fill="#f23645"/><rect x="961.24" y="194.0" width="5.6" height="15.0" fill="#f23645"/><rect x="968.45" y="207.3" width="5.6" height="1.5" fill="#089981"/><rect x="975.67" y="183.5" width="5.6" height="24.3" fill="#089981"/><rect x="982.89" y="183.5" width="5.6" height="66.9" fill="#f23645"/><rect x="990.11" y="250.4" width="5.6" height="6.8" fill="#f23645"/><rect x="997.32" y="257.1" width="5.6" height="7.5" fill="#f23645"/><rect x="1004.54" y="265.1" width="5.6" height="59.6" fill="#f23645"/><rect x="1011.76" y="323.9" width="5.6" height="1.3" fill="#f23645"/><rect x="1018.98" y="324.7" width="5.6" height="6.0" fill="#f23645"/><rect x="1026.19" y="318.2" width="5.6" height="12.5" fill="#089981"/><rect x="1033.41" y="318.2" width="5.6" height="78.4" fill="#f23645"/><rect x="1040.63" y="361.0" width="5.6" height="35.6" fill="#089981"/><rect x="1047.85" y="361.0" width="5.6" height="2.5" fill="#f23645"/><rect x="1055.06" y="363.5" width="5.6" height="52.6" fill="#f23645"/><rect x="1062.28" y="412.1" width="5.6" height="4.0" fill="#089981"/><rect x="1069.50" y="397.1" width="5.6" height="15.0" fill="#089981"/><rect x="1076.71" y="397.3" width="5.6" height="3.0" fill="#f23645"/><rect x="1083.93" y="392.3" width="5.6" height="8.0" fill="#089981"/><rect x="1091.15" y="370.3" width="5.6" height="22.5" fill="#089981"/><rect x="1098.37" y="355.3" width="5.6" height="15.5" fill="#089981"/><rect x="1105.59" y="355.3" width="5.6" height="1.5" fill="#f23645"/><rect x="1112.80" y="354.9" width="5.6" height="1.2" fill="#089981"/><rect x="1120.02" y="356.0" width="5.6" height="27.3" fill="#f23645"/><rect x="1127.24" y="381.6" width="5.6" height="1.3" fill="#089981"/><rect x="1134.46" y="382.1" width="5.6" height="22.8" fill="#f23645"/><rect x="1141.67" y="397.8" width="5.6" height="7.0" fill="#089981"/><rect x="1148.89" y="397.8" width="5.6" height="13.0" fill="#f23645"/><rect x="1156.11" y="397.8" width="5.6" height="13.0" fill="#089981"/><rect x="1163.33" y="391.1" width="5.6" height="6.8" fill="#089981"/><rect x="1170.54" y="391.1" width="5.6" height="30.6" fill="#f23645"/><rect x="1177.76" y="409.6" width="5.6" height="12.0" fill="#089981"/><rect x="1184.98" y="343.2" width="5.6" height="66.4" fill="#089981"/><rect x="1192.20" y="343.2" width="5.6" height="18.3" fill="#f23645"/><rect x="1199.41" y="355.8" width="5.6" height="5.8" fill="#089981"/><rect x="1206.63" y="355.8" width="5.6" height="11.3" fill="#f23645"/><rect x="1213.85" y="367.0" width="5.6" height="12.5" fill="#f23645"/><rect x="1221.07" y="379.0" width="5.6" height="20.8" fill="#f23645"/><rect x="1228.28" y="394.1" width="5.6" height="5.8" fill="#089981"/><rect x="1235.50" y="389.3" width="5.6" height="5.0" fill="#089981"/><rect x="1242.72" y="389.1" width="5.6" height="16.3" fill="#f23645"/><rect x="1249.94" y="379.3" width="5.6" height="26.1" fill="#089981"/><rect x="1257.15" y="379.3" width="5.6" height="1.5" fill="#f23645"/><rect x="1264.37" y="355.3" width="5.6" height="25.8" fill="#089981"/><rect x="1271.59" y="328.4" width="5.6" height="26.8" fill="#089981"/><rect x="1278.81" y="328.4" width="5.6" height="12.3" fill="#f23645"/><rect x="1286.02" y="314.7" width="5.6" height="26.8" fill="#089981"/><rect x="1293.24" y="314.7" width="5.6" height="5.5" fill="#f23645"/><rect x="1300.46" y="313.9" width="5.6" height="6.3" fill="#089981"/><rect x="1307.68" y="313.9" width="5.6" height="13.8" fill="#f23645"/><rect x="1314.89" y="321.4" width="5.6" height="7.0" fill="#089981"/><rect x="1322.11" y="320.7" width="5.6" height="1.3" fill="#089981"/><rect x="1329.33" y="302.1" width="5.6" height="18.8" fill="#089981"/><rect x="1336.55" y="302.1" width="5.6" height="43.1" fill="#f23645"/><rect x="1343.76" y="344.7" width="5.6" height="3.0" fill="#f23645"/><rect x="1350.98" y="345.7" width="5.6" height="22.8" fill="#f23645"/><rect x="1358.20" y="367.3" width="5.6" height="25.6" fill="#f23645"/><rect x="1365.42" y="392.3" width="5.6" height="23.0" fill="#f23645"/><rect x="1372.63" y="414.6" width="5.6" height="1.3" fill="#f23645"/><rect x="1379.85" y="412.1" width="5.6" height="4.0" fill="#089981"/><rect x="1387.07" y="373.3" width="5.6" height="38.8" fill="#089981"/><rect x="1394.29" y="373.3" width="5.6" height="33.8" fill="#f23645"/><rect x="1401.50" y="406.3" width="5.6" height="20.5" fill="#f23645"/><rect x="1408.72" y="423.8" width="5.6" height="3.0" fill="#089981"/><rect x="1415.94" y="417.1" width="5.6" height="7.5" fill="#089981"/><rect x="1423.16" y="409.3" width="5.6" height="7.5" fill="#089981"/><rect x="1430.37" y="402.0" width="5.6" height="7.5" fill="#089981"/><rect x="1437.59" y="401.8" width="5.6" height="25.1" fill="#f23645"/><rect x="1444.81" y="426.8" width="5.6" height="83.9" fill="#f23645"/><rect x="1452.03" y="493.2" width="5.6" height="17.5" fill="#089981"/><rect x="1459.24" y="493.2" width="5.6" height="4.5" fill="#f23645"/><rect x="1466.46" y="497.0" width="5.6" height="12.8" fill="#f23645"/><rect x="1473.68" y="509.7" width="5.6" height="17.3" fill="#f23645"/><rect x="1480.89" y="514.8" width="5.6" height="12.3" fill="#089981"/><rect x="1488.11" y="507.2" width="5.6" height="7.5" fill="#089981"/><rect x="1495.33" y="506.7" width="5.6" height="37.1" fill="#f23645"/><rect x="1502.55" y="512.0" width="5.6" height="31.8" fill="#089981"/><rect x="1509.77" y="510.3" width="5.6" height="2.5" fill="#089981"/><rect x="1516.98" y="510.3" width="5.6" height="21.8" fill="#f23645"/><rect x="1524.20" y="519.0" width="5.6" height="13.0" fill="#089981"/><rect x="1531.42" y="517.9" width="5.6" height="1.2" fill="#089981"/><rect x="1538.63" y="518.0" width="5.6" height="18.5" fill="#f23645"/><rect x="1545.85" y="521.0" width="5.6" height="15.5" fill="#089981"/><rect x="1553.07" y="514.0" width="5.6" height="7.5" fill="#089981"/><rect x="1560.29" y="514.0" width="5.6" height="20.5" fill="#f23645"/><rect x="1567.51" y="534.0" width="5.6" height="21.8" fill="#f23645"/><rect x="1574.72" y="555.8" width="5.6" height="5.0" fill="#f23645"/><rect x="1581.94" y="558.1" width="5.6" height="2.8" fill="#089981"/><rect x="1589.16" y="531.0" width="5.6" height="27.6" fill="#089981"/><rect x="1596.38" y="522.3" width="5.6" height="8.8" fill="#089981"/><rect x="1603.59" y="517.8" width="5.6" height="5.0" fill="#089981"/><rect x="1610.81" y="517.8" width="5.6" height="40.6" fill="#f23645"/><rect x="1618.03" y="557.8" width="5.6" height="68.4" fill="#f23645"/><rect x="1625.25" y="613.0" width="5.6" height="13.3" fill="#089981"/><rect x="1632.46" y="582.1" width="5.6" height="31.3" fill="#089981"/><rect x="1639.68" y="560.4" width="5.6" height="22.0" fill="#089981"/><rect x="1646.90" y="552.3" width="5.6" height="8.5" fill="#089981"/><rect x="1654.12" y="536.1" width="5.6" height="16.8" fill="#089981"/><rect x="1661.33" y="526.0" width="5.6" height="10.5" fill="#089981"/></g>
<line x1="12" y1="287.5" x2="1946" y2="287.5" stroke="#434651" stroke-width="2.4"/>
<path d="M1332.2 287.6L1628 633.8L1779.5 287.5" fill="none" stroke="#2962ff" stroke-width="2.4" stroke-linejoin="miter"/>
<line x1="1628" y1="633.8" x2="1946" y2="633.8" stroke="#2962ff" stroke-width="2.4"/>
<path d="M1780 527.3V287.5" fill="none" stroke="#f23645" stroke-width="2.8"/><path d="M1760.6 305.6L1779.9 286.4L1799 305.6" fill="none" stroke="#f23645" stroke-width="2.9" stroke-linecap="round" stroke-linejoin="miter"/>
<rect x="1689" y="243.7" width="181.3" height="31" rx="4.5" fill="#bdcfe9" style="filter:drop-shadow(0 1px 2px rgba(0,0,0,0.16))"/>
<text x="1700.4" y="264.4" font-size="15.2" fill="#131722" textLength="159" lengthAdjust="spacingAndGlyphs">31.40 (22.32%) 3,140</text>
<line x1="12" y1="526.6" x2="1946" y2="526.6" stroke="#089981" stroke-opacity="0.85" stroke-width="1.2" stroke-dasharray="1.2 1.25"/>

<g>
 <!-- lightning -->
 <path d="M1655.2 671.3A12 12 0 1 1 1656.6 687.3" fill="none" stroke="#9c27b0" stroke-width="1.8" stroke-linecap="round"/>
 <path d="M1668.9 671.8L1659.8 680.6L1665.2 680L1660.6 686.2L1670.2 677L1664.6 677.7Z" fill="#9c27b0" stroke="#9c27b0" stroke-width="0.6" stroke-linejoin="round"/>
 <path d="M1651.6 676.6C1652.4 681 1653.8 682.4 1658 683.2C1653.8 684 1652.4 685.4 1651.6 689.8C1650.8 685.4 1649.4 684 1645.2 683.2C1649.4 682.4 1650.8 681 1651.6 676.6Z" fill="#7c4dff"/>
</g>
<g><clipPath id="f1"><circle cx="1707.4" cy="678.6" r="10.2"/></clipPath><circle cx="1707.4" cy="678.6" r="12" fill="#fff" stroke="#f23645" stroke-width="2.1"/><g clip-path="url(#f1)"><rect x="1697.2" y="668.4" width="20.4" height="20.4" fill="#fff"/><rect x="1697.2" y="668.40" width="20.4" height="4.08" fill="#ef5350"/><rect x="1697.2" y="676.56" width="20.4" height="4.08" fill="#ef5350"/><rect x="1697.2" y="684.72" width="20.4" height="4.08" fill="#ef5350"/><rect x="1697.2" y="668.4" width="12.399999999999999" height="12.24" fill="#1e88e5"/><rect x="1700.2" y="672.0" width="1.3" height="1.3" fill="#fff"/><rect x="1703.2" y="672.0" width="1.3" height="1.3" fill="#fff"/><rect x="1706.2" y="672.0" width="1.3" height="1.3" fill="#fff"/><rect x="1700.2" y="675.0" width="1.3" height="1.3" fill="#fff"/><rect x="1703.2" y="675.0" width="1.3" height="1.3" fill="#fff"/><rect x="1706.2" y="675.0" width="1.3" height="1.3" fill="#fff"/><rect x="1700.2" y="678.0" width="1.3" height="1.3" fill="#fff"/><rect x="1703.2" y="678.0" width="1.3" height="1.3" fill="#fff"/><rect x="1706.2" y="678.0" width="1.3" height="1.3" fill="#fff"/></g></g><g><clipPath id="f2"><circle cx="1699.7" cy="678.6" r="10.2"/></clipPath><circle cx="1699.7" cy="678.6" r="12" fill="#fff" stroke="#f23645" stroke-width="2.1"/><g clip-path="url(#f2)"><rect x="1689.5" y="668.4" width="20.4" height="20.4" fill="#fff"/><rect x="1689.5" y="668.40" width="20.4" height="4.08" fill="#ef5350"/><rect x="1689.5" y="676.56" width="20.4" height="4.08" fill="#ef5350"/><rect x="1689.5" y="684.72" width="20.4" height="4.08" fill="#ef5350"/><rect x="1689.5" y="668.4" width="12.399999999999999" height="12.24" fill="#1e88e5"/><rect x="1692.5" y="672.0" width="1.3" height="1.3" fill="#fff"/><rect x="1695.5" y="672.0" width="1.3" height="1.3" fill="#fff"/><rect x="1698.5" y="672.0" width="1.3" height="1.3" fill="#fff"/><rect x="1692.5" y="675.0" width="1.3" height="1.3" fill="#fff"/><rect x="1695.5" y="675.0" width="1.3" height="1.3" fill="#fff"/><rect x="1698.5" y="675.0" width="1.3" height="1.3" fill="#fff"/><rect x="1692.5" y="678.0" width="1.3" height="1.3" fill="#fff"/><rect x="1695.5" y="678.0" width="1.3" height="1.3" fill="#fff"/><rect x="1698.5" y="678.0" width="1.3" height="1.3" fill="#fff"/></g></g><g><clipPath id="f3"><circle cx="1743.6" cy="678.6" r="10.2"/></clipPath><circle cx="1743.6" cy="678.6" r="12" fill="#fff" stroke="#f23645" stroke-width="2.1"/><g clip-path="url(#f3)"><rect x="1733.3999999999999" y="668.4" width="20.4" height="20.4" fill="#fff"/><rect x="1733.3999999999999" y="668.40" width="20.4" height="4.08" fill="#ef5350"/><rect x="1733.3999999999999" y="676.56" width="20.4" height="4.08" fill="#ef5350"/><rect x="1733.3999999999999" y="684.72" width="20.4" height="4.08" fill="#ef5350"/><rect x="1733.3999999999999" y="668.4" width="12.399999999999999" height="12.24" fill="#1e88e5"/><rect x="1736.4" y="672.0" width="1.3" height="1.3" fill="#fff"/><rect x="1739.4" y="672.0" width="1.3" height="1.3" fill="#fff"/><rect x="1742.4" y="672.0" width="1.3" height="1.3" fill="#fff"/><rect x="1736.4" y="675.0" width="1.3" height="1.3" fill="#fff"/><rect x="1739.4" y="675.0" width="1.3" height="1.3" fill="#fff"/><rect x="1742.4" y="675.0" width="1.3" height="1.3" fill="#fff"/><rect x="1736.4" y="678.0" width="1.3" height="1.3" fill="#fff"/><rect x="1739.4" y="678.0" width="1.3" height="1.3" fill="#fff"/><rect x="1742.4" y="678.0" width="1.3" height="1.3" fill="#fff"/></g></g>
</g>
<defs><linearGradient id="os" x1="0" y1="897.7" x2="0" y2="949.7" gradientUnits="userSpaceOnUse"><stop offset="0" stop-color="#f23645" stop-opacity="0"/><stop offset="1" stop-color="#f23645" stop-opacity="0.42"/></linearGradient>
<clipPath id="cb"><rect x="13" y="897.7" width="1933" height="200"/></clipPath><clipPath id="cp"><rect x="13" y="696" width="1933" height="273"/></clipPath></defs>
<rect x="13" y="736.6" width="1933" height="161.1" fill="#7e57c2" fill-opacity="0.1"/>
<g clip-path="url(#cp)">
<path d="M11.3 897.7L11.3 935.5L18.5 935.5L25.8 945.5L33.0 945.0L40.2 946.2L47.4 907.4L54.6 911.2L61.8 851.6L69.1 832.0L76.3 827.3L83.5 835.3L90.7 826.8L97.9 843.3L105.2 823.5L112.4 785.2L119.6 780.2L126.8 793.9L134.0 835.8L141.2 832.0L148.5 807.2L155.7 820.2L162.9 807.0L170.1 809.5L177.3 799.4L184.5 807.7L191.8 828.5L199.0 837.0L206.2 840.8L213.4 841.8L220.6 844.5L227.8 825.3L235.1 859.1L242.3 867.3L249.5 868.3L256.7 855.8L263.9 885.4L271.2 866.6L278.4 859.1L285.6 862.1L292.8 861.6L300.0 845.3L307.2 837.0L314.5 838.3L321.7 843.3L328.9 835.3L336.1 827.0L343.3 830.3L350.5 837.3L357.8 815.2L365.0 804.0L372.2 817.0L379.4 824.0L386.6 801.0L393.9 790.2L401.1 797.2L408.3 809.5L415.5 822.7L422.7 815.2L429.9 843.3L437.2 847.0L444.4 836.5L451.6 773.9L458.8 790.7L466.0 836.0L473.2 838.0L480.5 839.8L487.7 839.0L494.9 845.3L502.1 864.6L509.3 864.8L516.5 844.0L523.8 812.7L531.0 809.7L538.2 791.9L545.4 790.9L552.6 789.7L559.9 790.2L567.1 784.4L574.3 784.7L581.5 809.5L588.7 784.4L595.9 780.7L603.2 781.7L610.4 778.2L617.6 790.2L624.8 799.4L632.0 783.9L639.2 792.7L646.5 785.9L653.7 756.4L660.9 745.8L668.1 753.4L675.3 745.8L682.6 723.3L689.8 744.6L697.0 770.9L704.2 771.4L711.4 772.6L718.6 787.7L725.9 767.6L733.1 760.6L740.3 789.7L747.5 799.4L754.7 829.5L761.9 839.5L769.2 841.5L776.4 822.7L783.6 797.7L790.8 815.2L798.0 845.3L805.2 836.0L812.5 811.0L819.7 821.0L826.9 847.8L834.1 882.4L841.3 904.9L848.6 863.6L855.8 860.8L863.0 859.1L870.2 836.0L877.4 839.5L884.6 838.3L891.9 844.5L899.1 845.3L906.3 853.6L913.5 850.3L920.7 848.3L927.9 849.3L935.2 848.5L942.4 856.6L949.6 830.3L956.8 845.3L964.0 861.6L971.3 859.1L978.5 821.0L985.7 883.6L992.9 888.6L1000.1 893.6L1007.3 922.4L1014.6 922.4L1021.8 924.7L1029.0 909.9L1036.2 938.0L1043.4 902.4L1050.6 902.9L1057.9 921.2L1065.1 917.4L1072.3 902.9L1079.5 904.2L1086.7 895.4L1094.0 874.6L1101.2 857.3L1108.4 858.3L1115.6 857.8L1122.8 875.4L1130.0 875.9L1137.3 889.6L1144.5 880.4L1151.7 888.4L1158.9 872.1L1166.1 866.1L1173.3 884.6L1180.6 871.1L1187.8 807.7L1195.0 821.5L1202.2 817.7L1209.4 827.0L1216.6 836.5L1223.9 851.1L1231.1 846.0L1238.3 840.8L1245.5 853.6L1252.7 827.0L1260.0 828.3L1267.2 804.0L1274.4 782.7L1281.6 794.4L1288.8 774.6L1296.0 780.2L1303.3 775.2L1310.5 791.9L1317.7 786.9L1324.9 785.2L1332.1 769.6L1339.3 816.5L1346.6 819.0L1353.8 837.3L1361.0 856.1L1368.2 872.1L1375.4 872.1L1382.7 867.3L1389.9 827.0L1397.1 851.6L1404.3 864.8L1411.5 862.3L1418.7 854.6L1426.0 846.0L1433.2 838.5L1440.4 857.8L1447.6 902.4L1454.8 886.6L1462.0 888.6L1469.3 894.1L1476.5 902.2L1483.7 890.4L1490.9 881.1L1498.1 898.6L1505.3 868.3L1512.6 866.6L1519.8 877.9L1527.0 865.8L1534.2 865.3L1541.4 876.1L1548.7 861.1L1555.9 852.8L1563.1 866.6L1570.3 879.6L1577.5 882.9L1584.7 879.6L1592.0 848.5L1599.2 839.5L1606.4 834.8L1613.6 867.3L1620.8 900.4L1628.0 889.1L1635.3 858.6L1642.5 842.3L1649.7 836.0L1656.9 823.2L1664.1 814.5L1664.1 897.7 Z" fill="url(#os)" clip-path="url(#cb)"/>
<line x1="13" y1="736.6" x2="1946" y2="736.6" stroke="#787b86" stroke-opacity="1" stroke-width="1" stroke-dasharray="3.7 4.8"/>
<line x1="13" y1="817.1" x2="1946" y2="817.1" stroke="#787b86" stroke-opacity="0.5" stroke-width="1" stroke-dasharray="3.7 4.8"/>
<line x1="13" y1="897.7" x2="1946" y2="897.7" stroke="#787b86" stroke-opacity="1" stroke-width="1" stroke-dasharray="3.7 4.8"/>
<path d="M12.5 879.9C14.6 882.2 20.5 889.7 25.1 894.1C29.6 898.6 35.1 903.1 40.1 906.7C45.1 910.2 50.5 914.1 55.1 915.4C59.7 916.8 62.9 916.4 67.6 914.9C72.4 913.5 78.4 910.3 83.4 906.7C88.5 903.0 93.1 898.3 97.9 892.9C102.8 887.5 107.6 880.8 112.5 874.1C117.3 867.4 122.2 859.3 127.0 852.8C131.8 846.3 136.5 840.5 141.3 835.3C146.1 830.1 151.0 824.7 155.8 821.5C160.6 818.3 165.3 817.4 170.1 816.0C174.9 814.5 179.8 813.4 184.6 812.7C189.5 812.1 195.5 812.0 199.1 812.2C202.8 812.4 202.8 812.3 206.4 814.0C210.0 815.6 215.9 820.0 220.7 822.0C225.5 824.0 230.4 824.2 235.2 826.0C240.1 827.8 246.1 831.2 249.7 832.8C253.4 834.3 254.8 834.1 257.3 835.3C259.7 836.4 260.7 837.4 264.3 839.5C267.8 841.7 273.8 845.8 278.6 848.3C283.4 850.8 289.5 853.3 293.1 854.6C296.7 855.8 296.5 855.7 300.1 855.8C303.7 855.9 309.8 855.3 314.6 855.3C319.5 855.3 324.3 856.4 329.2 855.8C334.0 855.2 338.9 853.2 343.7 851.6C348.5 849.9 354.4 847.8 358.0 846.0C361.6 844.2 361.6 842.7 365.2 840.8C368.8 838.9 374.7 837.1 379.5 834.5C384.4 831.9 390.6 827.3 394.3 825.3C398.0 823.2 398.0 823.2 401.6 822.0C405.1 820.8 412.3 819.2 415.8 818.2C419.4 817.3 419.3 816.4 422.8 816.5C426.4 816.5 433.5 818.2 437.1 818.5C440.8 818.8 441.0 819.2 444.6 818.2C448.3 817.3 455.3 813.3 458.9 812.7C462.5 812.1 462.6 814.0 466.2 814.7C469.8 815.5 475.7 815.6 480.5 817.2C485.3 818.9 490.2 821.9 495.0 824.5C499.8 827.1 505.1 831.1 509.3 832.8C513.4 834.4 516.4 834.9 520.0 834.5C523.7 834.2 526.8 832.5 531.1 830.8C535.3 829.0 540.5 824.8 545.3 824.0C550.1 823.2 555.0 826.8 559.9 825.8C564.7 824.7 569.6 820.1 574.4 817.7C579.2 815.4 583.9 814.4 588.7 811.5C593.5 808.6 599.6 802.9 603.2 800.2C606.8 797.5 607.6 796.7 610.5 795.2C613.3 793.6 616.6 792.0 620.2 790.9C623.8 789.9 627.6 789.5 632.0 788.9C636.4 788.4 641.7 788.7 646.5 787.7C651.3 786.6 656.0 784.3 660.8 782.7C665.6 781.0 671.7 779.5 675.4 777.7C679.0 775.9 680.2 773.4 682.6 771.9C685.0 770.4 686.0 769.7 689.6 768.9C693.2 768.1 699.3 767.6 704.2 767.1C709.0 766.7 713.9 767.1 718.7 766.4C723.5 765.6 729.4 763.3 733.0 762.6C736.6 762.0 737.8 762.4 740.2 762.6C742.7 762.8 743.9 761.8 747.5 763.9C751.1 766.0 757.2 771.3 762.0 775.2C766.8 779.0 771.5 783.4 776.3 786.9C781.1 790.5 786.0 793.3 790.8 796.4C795.7 799.6 801.8 803.5 805.4 805.7C809.0 807.9 810.0 808.4 812.4 809.5C814.8 810.5 817.2 810.6 819.6 812.0C822.1 813.4 823.3 814.1 826.9 817.7C830.5 821.4 837.8 830.4 841.4 834.0C845.0 837.7 844.9 838.0 848.4 839.5C852.0 841.1 858.1 842.5 863.0 843.3C867.8 844.0 872.7 843.1 877.5 844.0C882.3 845.0 888.2 848.2 891.8 849.0C895.4 849.9 895.4 848.3 899.0 849.0C902.7 849.8 908.8 852.5 913.6 853.6C918.4 854.6 923.1 855.9 927.9 855.3C932.7 854.8 937.5 851.8 942.4 850.3C947.2 848.8 953.3 846.8 956.9 846.0C960.5 845.3 961.8 845.8 964.2 846.0C966.6 846.3 968.8 847.2 971.2 847.3C973.6 847.4 974.8 845.7 978.5 846.5C982.1 847.3 989.4 850.5 993.0 852.1C996.6 853.6 996.7 853.2 1000.3 855.8C1003.8 858.4 1008.6 863.4 1014.5 867.8C1020.5 872.3 1031.3 879.4 1036.1 882.4C1040.9 885.4 1039.7 883.6 1043.3 885.9C1047.0 888.1 1053.1 892.8 1057.9 895.9C1062.7 898.9 1068.6 901.9 1072.1 904.2C1075.7 906.5 1077.0 908.6 1079.4 909.7C1081.8 910.7 1084.3 910.5 1086.7 910.4C1089.1 910.3 1091.5 909.9 1093.9 909.2C1096.4 908.4 1097.6 907.8 1101.2 905.9C1104.8 904.0 1111.9 899.8 1115.5 897.9C1119.1 896.0 1120.3 895.6 1122.7 894.6C1125.2 893.7 1127.6 893.2 1130.0 892.1C1132.4 891.1 1134.9 889.3 1137.3 888.4C1139.7 887.5 1142.2 887.1 1144.5 886.6C1146.9 886.1 1148.0 886.7 1151.6 885.4C1155.1 884.0 1161.2 880.5 1166.1 878.6C1170.9 876.7 1177.0 875.7 1180.6 874.1C1184.2 872.5 1184.0 871.0 1187.6 869.1C1191.2 867.2 1198.5 864.3 1202.2 862.8C1205.8 861.4 1205.8 861.4 1209.4 860.3C1213.1 859.3 1220.4 857.5 1223.9 856.6C1227.5 855.6 1227.4 855.9 1231.0 854.6C1234.6 853.2 1241.9 850.2 1245.5 848.5C1249.1 846.9 1250.3 845.9 1252.8 844.8C1255.2 843.7 1257.6 843.3 1260.0 842.0C1262.4 840.8 1264.7 839.2 1267.0 837.3C1269.4 835.3 1271.9 832.5 1274.3 830.3C1276.7 828.0 1279.1 825.5 1281.6 824.0C1284.0 822.5 1285.2 822.8 1288.8 821.5C1292.5 820.2 1298.6 818.1 1303.4 816.0C1308.2 813.9 1312.8 811.7 1317.6 809.0C1322.4 806.3 1328.5 801.6 1332.2 799.7C1335.8 797.8 1337.0 798.4 1339.4 797.7C1341.8 796.9 1344.1 795.5 1346.4 795.2C1348.8 794.9 1351.3 795.2 1353.7 795.7C1356.1 796.2 1358.6 797.0 1361.0 798.2C1363.4 799.4 1364.6 799.9 1368.2 802.7C1371.9 805.5 1378.0 811.1 1382.8 814.7C1387.6 818.4 1392.2 820.9 1397.0 824.5C1401.8 828.1 1406.8 832.8 1411.6 836.5C1416.4 840.2 1421.1 843.7 1425.9 846.5C1430.7 849.3 1436.7 851.4 1440.4 853.3C1444.0 855.2 1446.0 856.9 1447.6 857.8C1449.2 858.8 1447.6 858.0 1450.0 859.1C1452.4 860.1 1457.6 862.7 1462.0 864.1C1466.4 865.5 1473.0 866.5 1476.6 867.3C1480.1 868.2 1480.0 867.5 1483.6 869.1C1487.2 870.6 1493.3 875.3 1498.1 876.6C1502.9 877.9 1507.8 876.4 1512.6 877.1C1517.4 877.8 1522.1 879.8 1526.9 880.9C1531.7 881.9 1536.6 883.8 1541.4 883.4C1546.3 882.9 1551.2 879.8 1556.0 878.4C1560.8 876.9 1565.4 875.8 1570.2 874.8C1575.0 873.9 1581.1 873.5 1584.8 872.8C1588.4 872.2 1589.6 872.1 1592.0 871.1C1594.5 870.0 1596.9 867.7 1599.3 866.6C1601.7 865.5 1603.9 864.9 1606.3 864.6C1608.7 864.2 1609.9 864.1 1613.6 864.6C1617.2 865.1 1624.5 867.3 1628.1 867.6C1631.7 867.9 1633.0 867.1 1635.4 866.6C1637.8 866.1 1638.8 865.5 1642.4 864.6C1646.0 863.6 1653.3 862.1 1656.9 860.8C1660.5 859.6 1663.0 857.7 1664.2 857.1" fill="none" stroke="#fdd835" stroke-width="1.2" stroke-linejoin="round"/>
<path d="M11.3 935.5L18.5 935.5L25.8 945.5L33.0 945.0L40.2 946.2L47.4 907.4L54.6 911.2L61.8 851.6L69.1 832.0L76.3 827.3L83.5 835.3L90.7 826.8L97.9 843.3L105.2 823.5L112.4 785.2L119.6 780.2L126.8 793.9L134.0 835.8L141.2 832.0L148.5 807.2L155.7 820.2L162.9 807.0L170.1 809.5L177.3 799.4L184.5 807.7L191.8 828.5L199.0 837.0L206.2 840.8L213.4 841.8L220.6 844.5L227.8 825.3L235.1 859.1L242.3 867.3L249.5 868.3L256.7 855.8L263.9 885.4L271.2 866.6L278.4 859.1L285.6 862.1L292.8 861.6L300.0 845.3L307.2 837.0L314.5 838.3L321.7 843.3L328.9 835.3L336.1 827.0L343.3 830.3L350.5 837.3L357.8 815.2L365.0 804.0L372.2 817.0L379.4 824.0L386.6 801.0L393.9 790.2L401.1 797.2L408.3 809.5L415.5 822.7L422.7 815.2L429.9 843.3L437.2 847.0L444.4 836.5L451.6 773.9L458.8 790.7L466.0 836.0L473.2 838.0L480.5 839.8L487.7 839.0L494.9 845.3L502.1 864.6L509.3 864.8L516.5 844.0L523.8 812.7L531.0 809.7L538.2 791.9L545.4 790.9L552.6 789.7L559.9 790.2L567.1 784.4L574.3 784.7L581.5 809.5L588.7 784.4L595.9 780.7L603.2 781.7L610.4 778.2L617.6 790.2L624.8 799.4L632.0 783.9L639.2 792.7L646.5 785.9L653.7 756.4L660.9 745.8L668.1 753.4L675.3 745.8L682.6 723.3L689.8 744.6L697.0 770.9L704.2 771.4L711.4 772.6L718.6 787.7L725.9 767.6L733.1 760.6L740.3 789.7L747.5 799.4L754.7 829.5L761.9 839.5L769.2 841.5L776.4 822.7L783.6 797.7L790.8 815.2L798.0 845.3L805.2 836.0L812.5 811.0L819.7 821.0L826.9 847.8L834.1 882.4L841.3 904.9L848.6 863.6L855.8 860.8L863.0 859.1L870.2 836.0L877.4 839.5L884.6 838.3L891.9 844.5L899.1 845.3L906.3 853.6L913.5 850.3L920.7 848.3L927.9 849.3L935.2 848.5L942.4 856.6L949.6 830.3L956.8 845.3L964.0 861.6L971.3 859.1L978.5 821.0L985.7 883.6L992.9 888.6L1000.1 893.6L1007.3 922.4L1014.6 922.4L1021.8 924.7L1029.0 909.9L1036.2 938.0L1043.4 902.4L1050.6 902.9L1057.9 921.2L1065.1 917.4L1072.3 902.9L1079.5 904.2L1086.7 895.4L1094.0 874.6L1101.2 857.3L1108.4 858.3L1115.6 857.8L1122.8 875.4L1130.0 875.9L1137.3 889.6L1144.5 880.4L1151.7 888.4L1158.9 872.1L1166.1 866.1L1173.3 884.6L1180.6 871.1L1187.8 807.7L1195.0 821.5L1202.2 817.7L1209.4 827.0L1216.6 836.5L1223.9 851.1L1231.1 846.0L1238.3 840.8L1245.5 853.6L1252.7 827.0L1260.0 828.3L1267.2 804.0L1274.4 782.7L1281.6 794.4L1288.8 774.6L1296.0 780.2L1303.3 775.2L1310.5 791.9L1317.7 786.9L1324.9 785.2L1332.1 769.6L1339.3 816.5L1346.6 819.0L1353.8 837.3L1361.0 856.1L1368.2 872.1L1375.4 872.1L1382.7 867.3L1389.9 827.0L1397.1 851.6L1404.3 864.8L1411.5 862.3L1418.7 854.6L1426.0 846.0L1433.2 838.5L1440.4 857.8L1447.6 902.4L1454.8 886.6L1462.0 888.6L1469.3 894.1L1476.5 902.2L1483.7 890.4L1490.9 881.1L1498.1 898.6L1505.3 868.3L1512.6 866.6L1519.8 877.9L1527.0 865.8L1534.2 865.3L1541.4 876.1L1548.7 861.1L1555.9 852.8L1563.1 866.6L1570.3 879.6L1577.5 882.9L1584.7 879.6L1592.0 848.5L1599.2 839.5L1606.4 834.8L1613.6 867.3L1620.8 900.4L1628.0 889.1L1635.3 858.6L1642.5 842.3L1649.7 836.0L1656.9 823.2L1664.1 814.5" fill="none" stroke="#7e57c2" stroke-width="1.2" stroke-linejoin="round"/>
</g>
<g fill="none" stroke="#ebecf0" stroke-width="1.2">
<rect x="12.4" y="33.5" width="2023.0" height="969.9"/>
<line x1="12.4" y1="695.3" x2="2035.4" y2="695.3"/>
</g>
<text x="13" y="24.6" font-size="14.5" fill="#131722" text-anchor="start" font-weight="normal" textLength="497" lengthAdjust="spacingAndGlyphs" >kanguhalubale created with TradingView.com, Nov 18, 2025 16:53 UTC</text>
<text x="23" y="58.4" font-size="14.5" fill="#131722" text-anchor="start" font-weight="normal" textLength="243" lengthAdjust="spacingAndGlyphs" >Solana / U.S. Dollar · 4h · Coinbase</text>
<text x="276.3" y="58.4" font-size="14.5" fill="#131722" text-anchor="start" font-weight="normal" >O</text>
<text x="287.7" y="58.4" font-size="14.5" fill="#089981" text-anchor="start" font-weight="normal" textLength="46" lengthAdjust="spacingAndGlyphs" >139.59</text>
<text x="344.3" y="58.4" font-size="14.5" fill="#131722" text-anchor="start" font-weight="normal" >H</text>
<text x="355.3" y="58.4" font-size="14.5" fill="#089981" text-anchor="start" font-weight="normal" textLength="44" lengthAdjust="spacingAndGlyphs" >141.89</text>
<text x="409.5" y="58.4" font-size="14.5" fill="#131722" text-anchor="start" font-weight="normal" >L</text>
<text x="417.5" y="58.4" font-size="14.5" fill="#089981" text-anchor="start" font-weight="normal" textLength="46.5" lengthAdjust="spacingAndGlyphs" >138.65</text>
<text x="474.4" y="58.4" font-size="14.5" fill="#131722" text-anchor="start" font-weight="normal" >C</text>
<text x="485" y="58.4" font-size="14.5" fill="#089981" text-anchor="start" font-weight="normal" textLength="45.4" lengthAdjust="spacingAndGlyphs" >140.76</text>
<text x="540.7" y="58.4" font-size="14.5" fill="#089981" text-anchor="start" font-weight="normal" textLength="103.6" lengthAdjust="spacingAndGlyphs" >+1.21 (+0.87%)</text>
<text x="23" y="78.8" font-size="14.5" fill="#131722" text-anchor="start" font-weight="normal" textLength="280" lengthAdjust="spacingAndGlyphs" >SMAs (50, close, 100, close, 200, close)</text>
<text x="313" y="78.8" font-size="14.5" fill="#ffea00" text-anchor="start" font-weight="normal" textLength="45" lengthAdjust="spacingAndGlyphs" >147.06</text>
<text x="367.3" y="78.8" font-size="14.5" fill="#800000" text-anchor="start" font-weight="normal" textLength="45.7" lengthAdjust="spacingAndGlyphs" >155.47</text>
<text x="423" y="78.8" font-size="14.5" fill="#800080" text-anchor="start" font-weight="normal" textLength="44" lengthAdjust="spacingAndGlyphs" >172.91</text>
<text x="23" y="720.5" font-size="14.5" fill="#131722" text-anchor="start" font-weight="normal" textLength="99" lengthAdjust="spacingAndGlyphs" >RSI (14, close)</text>
<text x="132" y="720.5" font-size="14.5" fill="#7e57c2" text-anchor="start" font-weight="normal" textLength="40" lengthAdjust="spacingAndGlyphs" >50.54</text>
<text x="181.5" y="720.5" font-size="14.5" fill="#fdd835" text-anchor="start" font-weight="normal" textLength="40.5" lengthAdjust="spacingAndGlyphs" >40.00</text>
<text x="1958" y="113.8" font-size="15.3" fill="#131722" text-anchor="start" font-weight="normal" textLength="50.3" lengthAdjust="spacingAndGlyphs" >200.00</text>
<text x="1958" y="174.5" font-size="15.3" fill="#131722" text-anchor="start" font-weight="normal" textLength="50.3" lengthAdjust="spacingAndGlyphs" >190.00</text>
<text x="1958" y="225.3" font-size="15.3" fill="#131722" text-anchor="start" font-weight="normal" textLength="50.3" lengthAdjust="spacingAndGlyphs" >182.00</text>
<text x="1958" y="335.90000000000003" font-size="15.3" fill="#131722" text-anchor="start" font-weight="normal" textLength="50.3" lengthAdjust="spacingAndGlyphs" >166.00</text>
<text x="1958" y="389.6" font-size="15.3" fill="#131722" text-anchor="start" font-weight="normal" textLength="50.3" lengthAdjust="spacingAndGlyphs" >158.50</text>
<text x="1958" y="428.40000000000003" font-size="15.3" fill="#131722" text-anchor="start" font-weight="normal" textLength="50.3" lengthAdjust="spacingAndGlyphs" >153.50</text>
<text x="1958" y="525.9" font-size="15.3" fill="#131722" text-anchor="start" font-weight="normal" textLength="50.3" lengthAdjust="spacingAndGlyphs" >141.50</text>
<text x="1958" y="576.6999999999999" font-size="15.3" fill="#131722" text-anchor="start" font-weight="normal" textLength="50.3" lengthAdjust="spacingAndGlyphs" >135.50</text>
<text x="1958" y="621.3" font-size="15.3" fill="#131722" text-anchor="start" font-weight="normal" textLength="50.3" lengthAdjust="spacingAndGlyphs" >130.50</text>
<text x="1958" y="663.9" font-size="15.3" fill="#131722" text-anchor="start" font-weight="normal" textLength="50.3" lengthAdjust="spacingAndGlyphs" >126.00</text>
<clipPath id="cr"><rect x="1946" y="695.8" width="90" height="280"/></clipPath>
<g clip-path="url(#cr)">
<text x="1957.5" y="701.625" font-size="15.3" fill="#131722" text-anchor="start" font-weight="normal" textLength="41" lengthAdjust="spacingAndGlyphs" >80.00</text>
<text x="1957.5" y="741.9" font-size="15.3" fill="#131722" text-anchor="start" font-weight="normal" textLength="41" lengthAdjust="spacingAndGlyphs" >70.00</text>
<text x="1957.5" y="782.175" font-size="15.3" fill="#131722" text-anchor="start" font-weight="normal" textLength="41" lengthAdjust="spacingAndGlyphs" >60.00</text>
<text x="1957.5" y="902.9999999999999" font-size="15.3" fill="#131722" text-anchor="start" font-weight="normal" textLength="41" lengthAdjust="spacingAndGlyphs" >30.00</text>
<text x="1957.5" y="943.2749999999999" font-size="15.3" fill="#131722" text-anchor="start" font-weight="normal" textLength="41" lengthAdjust="spacingAndGlyphs" >20.00</text>
</g>
<path d="M1947 255.89999999999998H2012.4a3 3 0 0 1 3 3V273.9a3 3 0 0 1 -3 3H1947Z" fill="#800080"/>
<text x="1958.6" y="271.7" font-size="15.3" fill="#ffffff" text-anchor="start" font-weight="normal" textLength="48.5" lengthAdjust="spacingAndGlyphs" >172.91</text>
<path d="M1947 276.9H2012.4a3 3 0 0 1 3 3V294.9a3 3 0 0 1 -3 3H1947Z" fill="#434651"/>
<text x="1958.6" y="292.7" font-size="15.3" fill="#ffffff" text-anchor="start" font-weight="normal" textLength="48.5" lengthAdjust="spacingAndGlyphs" >172.01</text>
<path d="M1947 397.6H2012.4a3 3 0 0 1 3 3V415.6a3 3 0 0 1 -3 3H1947Z" fill="#800000"/>
<text x="1958.6" y="413.40000000000003" font-size="15.3" fill="#ffffff" text-anchor="start" font-weight="normal" textLength="48.5" lengthAdjust="spacingAndGlyphs" >155.47</text>
<path d="M1947 463.9H2012.4a3 3 0 0 1 3 3V481.9a3 3 0 0 1 -3 3H1947Z" fill="#ffff00"/>
<text x="1958.6" y="479.7" font-size="15.3" fill="#131722" text-anchor="start" font-weight="normal" textLength="48.5" lengthAdjust="spacingAndGlyphs" >147.06</text>
<path d="M1947 623.0H2012.4a3 3 0 0 1 3 3V641.0a3 3 0 0 1 -3 3H1947Z" fill="#2962ff"/>
<text x="1958.6" y="638.8" font-size="15.3" fill="#ffffff" text-anchor="start" font-weight="normal" textLength="48.5" lengthAdjust="spacingAndGlyphs" >128.64</text>
<path d="M1947 804.4H2001.8a3 3 0 0 1 3 3V822.4a3 3 0 0 1 -3 3H1947Z" fill="#7e57c2"/>
<text x="1957.5" y="820.1999999999999" font-size="15.3" fill="#ffffff" text-anchor="start" font-weight="normal" textLength="41" lengthAdjust="spacingAndGlyphs" >50.54</text>
<path d="M1947 846.55H2001.8a3 3 0 0 1 3 3V864.55a3 3 0 0 1 -3 3H1947Z" fill="#fdd835"/>
<text x="1957.5" y="862.3499999999999" font-size="15.3" fill="#131722" text-anchor="start" font-weight="normal" textLength="41" lengthAdjust="spacingAndGlyphs" >40.00</text>
<path d="M1947 516.0H2025.8a3 3 0 0 1 3 3V551.0a3 3 0 0 1 -3 3H1947Z" fill="#089981"/>
<text x="1958.6" y="531.7" font-size="15.3" fill="#fff" text-anchor="start" font-weight="normal" textLength="49.6" lengthAdjust="spacingAndGlyphs" >140.76</text>
<text x="1957.5" y="549.4" font-size="15.3" fill="#fff" text-anchor="start" font-weight="normal" textLength="64" lengthAdjust="spacingAndGlyphs" fill-opacity="0.72">03:06:30</text>
<rect x="1950.5" y="37.5" width="81" height="33" rx="4.5" fill="#fff" stroke="#ebebeb" stroke-width="1"/>
<text x="1962" y="59.2" font-size="14.2" fill="#131722" text-anchor="start" font-weight="normal" textLength="30.2" lengthAdjust="spacingAndGlyphs" >USD</text>
<text x="83.5" y="993.2" font-size="15" fill="#131722" text-anchor="middle" font-weight="normal" >13</text>
<text x="170.11" y="993.2" font-size="15" fill="#131722" text-anchor="middle" font-weight="normal" >15</text>
<text x="256.72" y="993.2" font-size="15" fill="#131722" text-anchor="middle" font-weight="normal" >17</text>
<text x="343.33" y="993.2" font-size="15" fill="#131722" text-anchor="middle" font-weight="normal" >19</text>
<text x="429.94" y="993.2" font-size="15" fill="#131722" text-anchor="middle" font-weight="normal" >21</text>
<text x="516.55" y="993.2" font-size="15" fill="#131722" text-anchor="middle" font-weight="normal" >23</text>
<text x="603.16" y="993.2" font-size="15" fill="#131722" text-anchor="middle" font-weight="normal" >25</text>
<text x="682.5525" y="993.2" font-size="15" fill="#131722" text-anchor="middle" font-weight="normal" >27</text>
<text x="769.1625" y="993.2" font-size="15" fill="#131722" text-anchor="middle" font-weight="normal" >29</text>
<text x="899.0775" y="993.2" font-size="15" fill="#131722" text-anchor="middle" font-weight="bold" >Nov</text>
<text x="985.6875" y="993.2" font-size="15" fill="#131722" text-anchor="middle" font-weight="normal" >3</text>
<text x="1072.2975000000001" y="993.2" font-size="15" fill="#131722" text-anchor="middle" font-weight="normal" >5</text>
<text x="1158.9075" y="993.2" font-size="15" fill="#131722" text-anchor="middle" font-weight="normal" >7</text>
<text x="1245.5175" y="993.2" font-size="15" fill="#131722" text-anchor="middle" font-weight="normal" >9</text>
<text x="1332.1275" y="993.2" font-size="15" fill="#131722" text-anchor="middle" font-weight="normal" >11</text>
<text x="1418.7375" y="993.2" font-size="15" fill="#131722" text-anchor="middle" font-weight="normal" >13</text>
<text x="1505.3475" y="993.2" font-size="15" fill="#131722" text-anchor="middle" font-weight="normal" >15</text>
<text x="1591.9575" y="993.2" font-size="15" fill="#131722" text-anchor="middle" font-weight="normal" >17</text>
<text x="1678.5675" y="993.2" font-size="15" fill="#131722" text-anchor="middle" font-weight="normal" >19</text>
<text x="1765.1775" y="993.2" font-size="15" fill="#131722" text-anchor="middle" font-weight="normal" >21</text>
<text x="1851.7875000000001" y="993.2" font-size="15" fill="#131722" text-anchor="middle" font-weight="normal" >23</text>
<text x="1938.3975" y="993.2" font-size="15" fill="#131722" text-anchor="middle" font-weight="normal" >25</text>
<g transform="translate(14.9,1027.3) scale(1.05)" fill="#131722"><path d="M14 22H7V11H0V4h14v18zM28 22h-8l7.5-18h8L28 22z"/><circle cx="20" cy="8" r="4"/></g>
<text x="61" y="1050.6" font-size="26" fill="#131722" text-anchor="start" font-weight="bold" textLength="150.3" lengthAdjust="spacingAndGlyphs" >TradingView</text></svg></body></html>
